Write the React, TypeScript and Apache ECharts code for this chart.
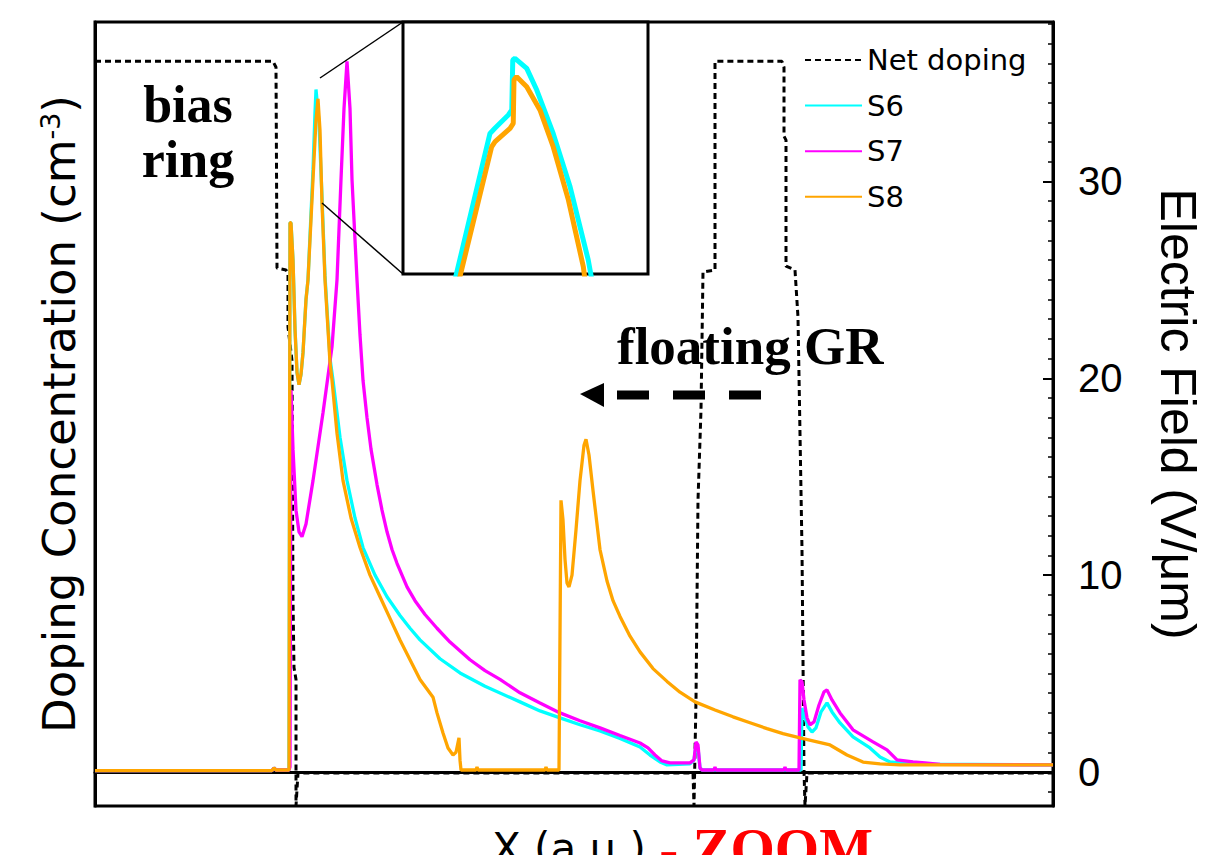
import React, { useEffect, useRef } from "react";
import * as echarts from "echarts";

// ---- data (x in a.u., field in V/um) ----
const xRange = [0, 958];
const fieldRange = [-1.73, 38.1];
const fieldTicks = [0, 10, 20, 30];
const fieldMinorTicks = [-1, 0, 1, 2, 3, 4, 5, 6, 7, 8, 9, 10, 11, 12, 13, 14, 15, 16, 17, 18, 19, 20, 21, 22, 23, 24, 25, 26, 27, 28, 29, 30, 31, 32, 33, 34, 35, 36, 37, 38];
const seriesNames = ["Net doping", "S6", "S7", "S8"];

const netDoping = [
  [0, 36.1], [178, 36.1], [181, 35.8], [182, 25.6], [191, 25.5], [193, 25.3], [193, 22.6], [197, 20.9],
  [198, 8.7], [199, 5.3], [201, 4.7], [201, -1.73], [203, -0.05], [598, -0.05], [599, -1.73], [601, 3.66],
  [603, 13.8], [606, 18.4], [608, 25.4], [620, 25.5], [620, 36.1], [687, 36.1], [689, 35.8], [689, 32.3],
  [691, 32.1], [691, 25.7], [700, 25.5], [703, 23.1], [707, 11.3], [709, 0.1], [710, -1.73], [712, -0.05],
  [958, -0.05],
];

const s6 = [
  [0, 0.07], [177, 0.07], [179, 0.2], [181, 0.1], [194, 0.1], [195, 27.9], [196, 27.9], [198, 26.0],
  [200, 22.5], [202, 20.3], [204, 19.67], [206, 20.2], [208, 21.3], [211, 24.0], [213, 25.0], [218, 30.6],
  [220, 33.5], [221, 34.67], [224, 33.0], [227, 29.2], [230, 25.2], [235, 21.0], [238, 19.9], [245, 17.0],
  [252, 14.8], [260, 12.9], [268, 11.4], [280, 10.0], [292, 8.9], [305, 7.95], [315, 7.3], [325, 6.71],
  [345, 5.75], [365, 5.03], [390, 4.35], [425, 3.56], [445, 3.1], [465, 2.75], [485, 2.4], [505, 2.08],
  [525, 1.7], [545, 1.27], [555, 0.86], [565, 0.51], [572, 0.36], [595, 0.41], [599, 0.61], [601, 1.37],
  [603, 1.22], [605, 0.2], [607, 0.1], [703, 0.1], [706, 0.1], [707, 3.25], [709, 2.9], [713, 2.29],
  [717, 2.03], [721, 2.24], [726, 3.05], [732, 3.51], [737, 3.05], [745, 2.49], [758, 1.78], [775, 1.22],
  [785, 0.76], [795, 0.51], [805, 0.46], [830, 0.4], [958, 0.36],
];

const s7 = [
  [0, 0.07], [177, 0.07], [179, 0.2], [181, 0.1], [194, 0.1], [195, 0.25], [196, 19.4], [198, 16.4],
  [201, 13.3], [204, 12.2], [207, 11.95], [211, 12.6], [218, 14.8], [228, 18.25], [237, 21.6], [242, 25.0],
  [246, 30.1], [249, 33.7], [252, 36.1], [255, 33.7], [257, 30.1], [262, 25.0], [265, 22.2], [268, 19.9],
  [272, 18.0], [276, 16.4], [282, 14.6], [287, 13.3], [292, 12.2], [297, 11.3], [302, 10.6], [307, 10.0],
  [312, 9.4], [320, 8.7], [330, 8.0], [342, 7.3], [355, 6.6], [375, 5.7], [390, 5.15], [405, 4.7],
  [425, 4.02], [445, 3.5], [465, 3.0], [485, 2.6], [505, 2.24], [525, 1.85], [545, 1.47], [553, 1.22],
  [560, 0.86], [567, 0.56], [575, 0.46], [595, 0.46], [599, 0.61], [601, 1.53], [603, 1.37], [605, 0.2],
  [607, 0.1], [619, 0.1], [620, 0.25], [621, 0.1], [689, 0.1], [690, 0.25], [691, 0.1], [704, 0.1],
  [705, 4.68], [707, 4.58], [709, 3.66], [712, 2.75], [715, 2.39], [719, 2.54], [724, 3.4], [729, 4.07],
  [732, 4.17], [737, 3.66], [745, 3.0], [758, 2.14], [778, 1.53], [792, 1.12], [802, 0.61], [818, 0.51],
  [830, 0.46], [845, 0.38], [958, 0.36],
];

const s8 = [
  [0, 0.07], [177, 0.07], [179, 0.2], [181, 0.1], [194, 0.1], [195, 27.9], [196, 27.9], [198, 26.0],
  [200, 22.5], [202, 20.3], [204, 19.67], [206, 20.2], [208, 21.3], [211, 24.0], [213, 25.0], [218, 30.1],
  [221, 33.1], [223, 34.2], [225, 32.6], [227, 28.9], [230, 25.0], [235, 20.8], [237, 19.9], [242, 17.2],
  [248, 14.8], [256, 12.9], [265, 11.4], [275, 10.0], [285, 8.9], [295, 7.8], [305, 6.7], [315, 5.7],
  [325, 4.7], [338, 3.8], [342, 3.0], [348, 1.98], [353, 1.22], [358, 0.86], [361, 1.0], [364, 1.73],
  [365, 0.6], [366, 0.1], [381, 0.1], [382, 0.25], [383, 0.1], [450, 0.1], [451, 0.25], [452, 0.1],
  [464, 0.1], [466, 13.8], [468, 12.8], [470, 10.8], [472, 9.6], [474, 9.4], [477, 10.0], [481, 12.3],
  [485, 14.8], [489, 16.6], [491, 16.9], [494, 16.1], [498, 14.3], [505, 11.3], [512, 9.7], [518, 8.7],
  [525, 7.9], [535, 6.9], [545, 6.1], [558, 5.25], [572, 4.6], [585, 4.05], [600, 3.56], [620, 3.15],
  [638, 2.8], [655, 2.5], [672, 2.2], [688, 1.95], [705, 1.73], [735, 1.37], [752, 0.86], [768, 0.5],
  [785, 0.41], [805, 0.36], [958, 0.36],
];

// zoomed view of the S6 / S8 bias-ring peak (inset units 0..100)
const insetS6 = [
  [21.2, -2.4], [35.5, 55.8], [37.6, 57.9], [43.0, 63.1], [44.4, 65.1], [44.8, 84.9], [45.7, 85.6],
  [50.5, 81.6], [54.6, 73.0], [61.3, 55.8], [68.2, 34.6], [75.6, 5.6], [77.1, -2.4],
];
const insetS8 = [
  [22.9, -2.4], [36.2, 50.5], [37.6, 52.5], [43.7, 57.8], [45.0, 59.8], [45.3, 77.0], [46.4, 78.3],
  [50.5, 74.3], [55.9, 65.1], [61.3, 50.5], [67.5, 29.4], [73.6, 2.9], [74.3, -2.4],
];

const colors = { doping: "#000000", s6: "#00ffff", s7: "#ff00ff", s8: "#ffa500" };

export default function App() {
  const ref = useRef<HTMLDivElement>(null);
  useEffect(() => {
    if (!ref.current) return;
    const chart = echarts.init(ref.current, undefined, { renderer: "svg" });
    const axisLine = { show: true, lineStyle: { color: "#000", width: 3 } };
    chart.setOption({
      animation: false,
      backgroundColor: "#fff",
      grid: [
        { left: 95, top: 22, width: 958, height: 784, show: true, borderColor: "#000", borderWidth: 3, backgroundColor: "transparent", outerBoundsMode: "none", containLabel: false },
        { left: 403, top: 22, width: 245, height: 252, show: true, borderColor: "#000", borderWidth: 3, backgroundColor: "#fff", z: 10, outerBoundsMode: "none", containLabel: false },
      ],
      legend: {
        data: seriesNames,
        orient: "vertical",
        left: 799,
        top: 40,
        itemWidth: 57,
        itemHeight: 14,
        itemGap: 15.6,
        itemStyle: { opacity: 0 },
        textStyle: { color: "#000", fontFamily: "DejaVu Sans", fontSize: 29, lineHeight: 30 },
      },
      xAxis: [
        {
          type: "value", gridIndex: 0, min: xRange[0], max: xRange[1],
          axisLine, axisTick: { show: false }, axisLabel: { show: false }, splitLine: { show: false },
          name: "{a|X (a.u.) }{b|- ZOOM}",
          nameLocation: "middle",
          nameGap: 14,
          nameTextStyle: {
            padding: [0, 0, 0, 217],
            rich: {
              a: { fontFamily: "DejaVu Sans", fontSize: 42, color: "#000" },
              b: { fontFamily: "Liberation Serif", fontWeight: "bold", fontSize: 57, color: "#ff0000" },
            },
          },
        },
        { type: "value", gridIndex: 1, min: 0, max: 100, show: false },
      ],
      yAxis: [
        {
          type: "value", gridIndex: 0, position: "left", min: fieldRange[0], max: fieldRange[1],
          axisLine, axisTick: { show: false }, axisLabel: { show: false }, splitLine: { show: false },
          name: "{t|Doping Concentration (cm}{s|-3}{t|)}",
          nameLocation: "middle",
          nameRotate: 90,
          nameGap: 13,
          nameTextStyle: {
            rich: {
              t: { fontFamily: "DejaVu Sans", fontSize: 45, color: "#000" },
              s: { fontFamily: "DejaVu Sans", fontSize: 27, color: "#000", verticalAlign: "top" },
            },
          },
        },
        {
          type: "value", gridIndex: 0, position: "right", min: fieldRange[0], max: fieldRange[1],
          axisLine,
          axisTick: { show: true, inside: true, length: 10, customValues: fieldTicks, lineStyle: { color: "#000", width: 2 } },
          axisLabel: { show: true, customValues: fieldTicks, margin: 25, color: "#000", fontFamily: "Liberation Sans", fontSize: 40 },
          splitLine: { show: false },
          name: "Electric Field (V/\u03bcm)",
          nameLocation: "middle",
          nameRotate: -90,
          nameGap: 100,
          nameTextStyle: { fontFamily: "Liberation Sans", fontSize: 50, color: "#000" },
        },
        {
          type: "value", gridIndex: 0, position: "right", min: fieldRange[0], max: fieldRange[1],
          axisLine: { show: false },
          axisTick: { show: true, inside: true, length: 5, customValues: fieldMinorTicks, lineStyle: { color: "#000", width: 1.5 } },
          axisLabel: { show: false }, splitLine: { show: false },
        },
        { type: "value", gridIndex: 1, min: 0, max: 100, show: false },
      ],
      series: [
        {
          name: "Net doping", type: "line", xAxisIndex: 0, yAxisIndex: 0, data: netDoping, symbol: "none",
          color: colors.doping, lineStyle: { color: colors.doping, width: 3, type: [6, 4] }, z: 2,
        },
        {
          name: "S6", type: "line", xAxisIndex: 0, yAxisIndex: 1, data: s6, symbol: "none",
          color: colors.s6, lineStyle: { color: colors.s6, width: 3.3 }, z: 3,
        },
        {
          name: "S7", type: "line", xAxisIndex: 0, yAxisIndex: 1, data: s7, symbol: "none",
          color: colors.s7, lineStyle: { color: colors.s7, width: 3.3 }, z: 4,
        },
        {
          name: "S8", type: "line", xAxisIndex: 0, yAxisIndex: 1, data: s8, symbol: "none",
          color: colors.s8, lineStyle: { color: colors.s8, width: 3.3 }, z: 5,
        },
        {
          name: "S6 zoom", type: "line", xAxisIndex: 1, yAxisIndex: 3, data: insetS6, symbol: "none",
          color: colors.s6, lineStyle: { color: colors.s6, width: 5 }, z: 11,
        },
        {
          name: "S8 zoom", type: "line", xAxisIndex: 1, yAxisIndex: 3, data: insetS8, symbol: "none",
          color: colors.s8, lineStyle: { color: colors.s8, width: 5 }, z: 12,
        },
      ],
      graphic: [
        { type: "line", z: 20, shape: { x1: 320, y1: 78, x2: 403, y2: 22 }, style: { stroke: "#000", lineWidth: 1.5 } },
        { type: "line", z: 20, shape: { x1: 322, y1: 203, x2: 403, y2: 274 }, style: { stroke: "#000", lineWidth: 1.5 } },
        {
          type: "text", z: 20, x: 188, y: 77,
          style: { text: "bias\nring", fill: "#000", font: 'bold 52px "Liberation Serif"', align: "center", verticalAlign: "top", lineHeight: 55 },
        },
        {
          type: "text", z: 20, x: 617, y: 319,
          style: { text: "floating GR", fill: "#000", font: 'bold 53px "Liberation Serif"', align: "left", verticalAlign: "top" },
        },
        { type: "line", z: 20, shape: { x1: 617, y1: 395, x2: 762, y2: 395 }, style: { stroke: "#000", lineWidth: 9, lineDash: [32, 24] } },
        { type: "polygon", z: 20, shape: { points: [[580, 394], [604, 383], [604, 407]] }, style: { fill: "#000" } },
      ],
    });
    return () => chart.dispose();
  }, []);
  return (
    <div
      ref={ref}
      style={{ position: "absolute", left: 0, top: 0, width: 1209, height: 855, background: "#fff" }}
    />
  );
}
